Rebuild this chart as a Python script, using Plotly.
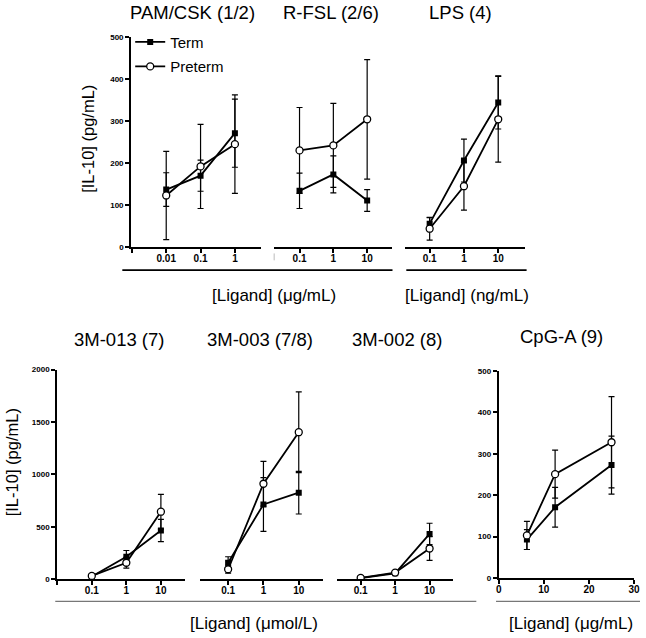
import plotly.graph_objects as go

W, H = 646, 638
FONT = "Liberation Sans, Arial, sans-serif"

# ---------------- data ----------------
titles = ["PAM/CSK (1/2)", "R-FSL (2/6)", "LPS (4)",
          "3M-013 (7)", "3M-003 (7/8)", "3M-002 (8)", "CpG-A (9)"]

pam_x = [0.01, 0.1, 1]
pam_term = [137, 170, 271]
pam_term_err = [40, 37, 81]
pam_pre = [123, 192, 245]
pam_pre_err = [105, 100, 117]

rfsl_x = [0.1, 1, 10]
rfsl_term = [134, 173, 111]
rfsl_term_err = [42, 44, 26]
rfsl_pre = [230, 242, 304]
rfsl_pre_err = [102, 100, 142]

lps_x = [0.1, 1, 10]
lps_term = [56, 206, 344]
lps_term_err = [14, 51, 63]
lps_pre = [44, 145, 304]
lps_pre_err = [27, 57, 102]

m013_x = [0.1, 1, 10]
m013_term = [25, 213, 464]
m013_term_err = [10, 60, 106]
m013_pre = [30, 156, 643]
m013_pre_err = [10, 52, 166]

m003_x = [0.1, 1, 10]
m003_term = [156, 712, 825]
m003_term_err = [57, 257, 204]
m003_pre = [94, 910, 1402]
m003_pre_err = [38, 213, 386]

m002_x = [0.1, 1, 10]
m002_term = [10, 55, 431]
m002_term_err = [5, 15, 102]
m002_pre = [12, 62, 292]
m002_pre_err = [5, 15, 113]

cpg_x = [6.25, 12.5, 25]
cpg_term = [93, 171, 273]
cpg_term_err = [24, 48, 70]
cpg_pre = [103, 251, 328]
cpg_pre_err = [34, 58, 110]

series_names = ["Term", "Preterm"]

panels = [
    (pam_x, pam_term, pam_term_err, pam_pre, pam_pre_err, "x", "y"),
    (rfsl_x, rfsl_term, rfsl_term_err, rfsl_pre, rfsl_pre_err, "x2", "y"),
    (lps_x, lps_term, lps_term_err, lps_pre, lps_pre_err, "x3", "y"),
    (m013_x, m013_term, m013_term_err, m013_pre, m013_pre_err, "x4", "y2"),
    (m003_x, m003_term, m003_term_err, m003_pre, m003_pre_err, "x5", "y2"),
    (m002_x, m002_term, m002_term_err, m002_pre, m002_pre_err, "x6", "y2"),
    (cpg_x, cpg_term, cpg_term_err, cpg_pre, cpg_pre_err, "x7", "y3"),
]

# ---------------- helpers ----------------
def px(v):
    return v / W

def py(v):
    return 1 - v / H

fig = go.Figure()

for i, (xs, t, te, p, pe, xa, ya) in enumerate(panels):
    fig.add_trace(go.Scatter(
        x=xs, y=t, xaxis=xa, yaxis=ya, mode="lines+markers",
        name=series_names[0], legendgroup="term", showlegend=(i == 0),
        line=dict(color="black", width=1.8),
        marker=dict(symbol="square", size=6, color="black"),
        error_y=dict(type="data", array=te, color="black", thickness=1.2, width=3),
    ))
    fig.add_trace(go.Scatter(
        x=xs, y=p, xaxis=xa, yaxis=ya, mode="lines+markers",
        name=series_names[1], legendgroup="preterm", showlegend=(i == 0),
        line=dict(color="black", width=1.8),
        marker=dict(symbol="circle", size=7, color="white",
                    line=dict(color="black", width=1.3)),
        error_y=dict(type="data", array=pe, color="black", thickness=1.2, width=3),
    ))

xtickfont = dict(family=FONT, size=10, color="black", weight="bold")
ytickfont = dict(family=FONT, size=8, color="black", weight="bold")

def xax(dom, rng, tickvals, ticktext, anchor, typ="log"):
    return dict(domain=[px(dom[0]), px(dom[1])], type=typ, range=rng,
                tickvals=tickvals, ticktext=ticktext, anchor=anchor,
                showline=True, linecolor="black", linewidth=2,
                ticks="outside", ticklen=4, tickwidth=1.5, tickcolor="black",
                ticklabelstandoff=-3,
                showgrid=False, zeroline=False, tickfont=xtickfont, fixedrange=True)

def yax(dom, rng, dtick, anchor, visible=True):
    return dict(domain=[py(dom[0]), py(dom[1])], range=rng, dtick=dtick,
                anchor=anchor, visible=visible,
                showline=True, linecolor="black", linewidth=2,
                ticks="outside", ticklen=4, tickwidth=1.5, tickcolor="black",
                showgrid=False, zeroline=False, tickfont=ytickfont, fixedrange=True)

fig.update_layout(
    width=W, height=H, autosize=False,
    margin=dict(l=0, r=0, t=0, b=0),
    paper_bgcolor="white", plot_bgcolor="rgba(0,0,0,0)",
    font=dict(family=FONT, color="black"),
    xaxis=xax((130, 262), [-3.02, 0.77], [0.001, 0.01, 0.1, 1], ["", "0.01", "0.1", "1"], "y"),
    xaxis2=xax((275, 394), [-1.75, 1.72], [0.1, 1, 10], ["0.1", "1", "10"], "y"),
    xaxis3=xax((408, 529), [-1.71, 1.77], [0.1, 1, 10], ["0.1", "1", "10"], "y"),
    xaxis4=xax((55, 185), [-2.0, 1.71], [0.01, 0.1, 1, 10], ["", "0.1", "1", "10"], "y2"),
    xaxis5=xax((199.3, 325), [-1.81, 1.70], [0.1, 1, 10], ["0.1", "1", "10"], "y2"),
    xaxis6=xax((338.3, 456.7), [-1.70, 1.69], [0.1, 1, 10], ["0.1", "1", "10"], "y2"),
    xaxis7=xax((502.7, 640), [0, 30], [0, 10, 20, 30], ["0", "10", "20", "30"], "y3", typ="linear"),
    yaxis=yax((246.7, 33.3), [0, 500], 100, "x"),
    yaxis2=yax((583.3, 370.8), [0, 2000], 500, "x4"),
    yaxis3=yax((582.3, 372.3), [0, 500], 100, "x7"),
    legend=dict(x=px(129), y=py(22), xanchor="left", yanchor="top",
                bgcolor="rgba(0,0,0,0)", font=dict(family=FONT, size=15, color="black"),
                itemwidth=30, tracegroupgap=2, traceorder="grouped"),
)

# titles
title_pos = [(192.5, 9), (333, 9), (464, 9), (118, 340), (261, 340), (400, 340), (566, 337)]
for txt, (cx, cy) in zip(titles, title_pos):
    fig.add_annotation(text=txt, x=px(cx), y=py(cy), xref="paper", yref="paper",
                       xanchor="center", yanchor="middle", showarrow=False,
                       font=dict(family=FONT, size=18.5, color="black"))

# axis titles
axis_titles = [
    ("[Ligand] (μg/mL)", 275, 296, 0, 17),
    ("[Ligand] (ng/mL)", 471, 296, 0, 17),
    ("[Ligand] (μmol/L)", 255, 628, 0, 17),
    ("[Ligand] (μg/mL)", 576, 628, 0, 17),
    ("[IL-10] (pg/mL)", 86, 137, -90, 16.5),
    ("[IL-10] (pg/mL)", 10, 465, -90, 16.5),
]
for txt, cx, cy, ang, fs in axis_titles:
    fig.add_annotation(text=txt, x=px(cx), y=py(cy), xref="paper", yref="paper",
                       xanchor="center", yanchor="middle", showarrow=False, textangle=ang,
                       font=dict(family=FONT, size=fs, color="black"))

# grouping lines below the x axes
group_lines = [(121, 395, 270, 270, "black", 1.8), (409, 531, 270, 270, "black", 1.8),
               (53, 480, 606, 606, "#777777", 1.2), (500, 646, 606, 606, "#777777", 1.2),
               (275, 275, 253, 260, "#bbbbbb", 1)]
for x0, x1, y0, y1, col, wdt in group_lines:
    fig.add_shape(type="line", xref="paper", yref="paper",
                  x0=px(x0), x1=px(x1), y0=py(y0), y1=py(y1),
                  line=dict(color=col, width=wdt))

fig.write_html("out.html", config={"displayModeBar": False},
               post_script="document.body.style.margin='0';")
